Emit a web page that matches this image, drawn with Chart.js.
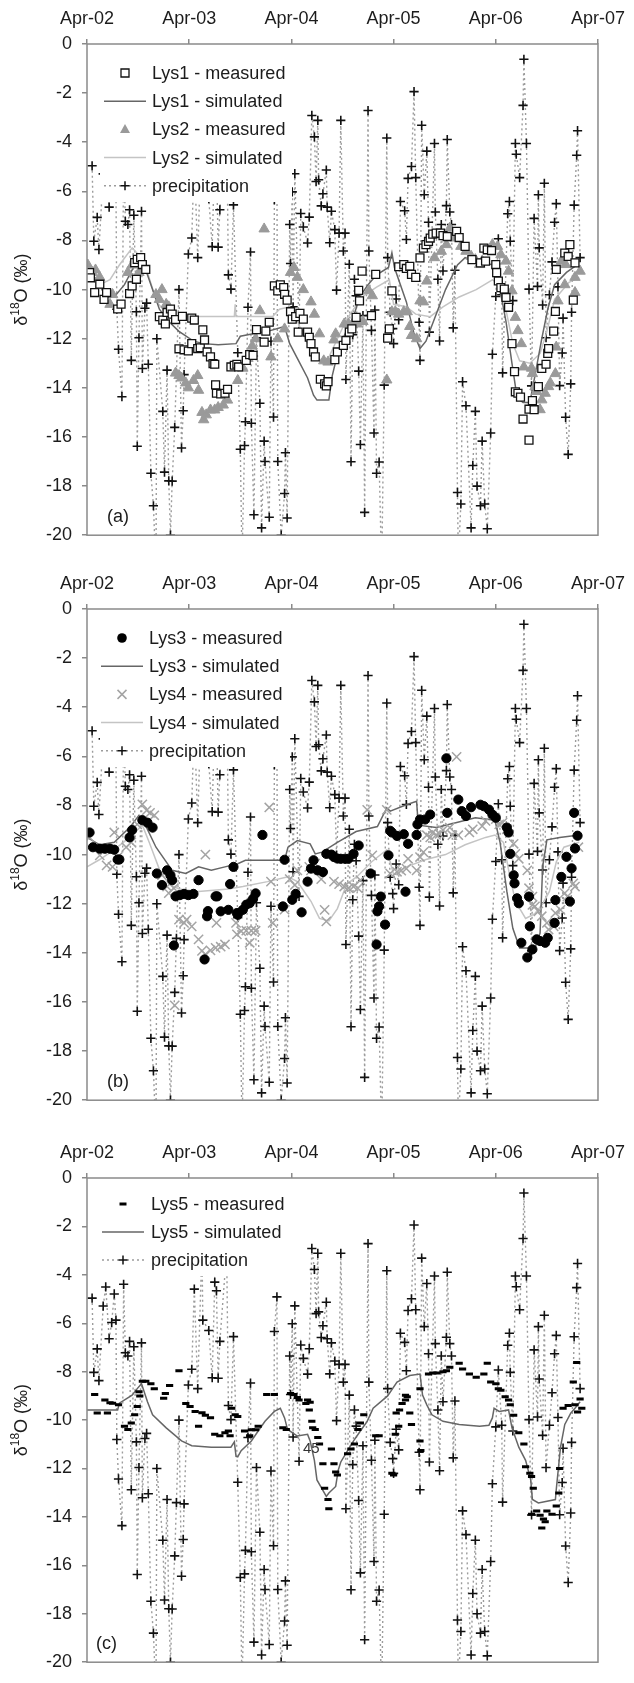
<!DOCTYPE html>
<html>
<head>
<meta charset="utf-8">
<script src="https://cdn.jsdelivr.net/npm/chart.js@4"></script>
<style>
  html, body { margin: 0; padding: 0; background: #fff; }
  #wrap { position: relative; width: 634px; height: 1683px; overflow: hidden; }
  canvas { position: absolute; left: 0; }
</style>
</head>
<body>
<div id="wrap">
  <canvas id="panelA" width="634" height="556" style="top:0px"></canvas>
  <canvas id="panelB" width="634" height="556" style="top:565px"></canvas>
  <canvas id="panelC" width="634" height="549" style="top:1134px"></canvas>
</div>
<script>
// x values are months since April 2002
const yearLabels = ["Apr-02", "Apr-03", "Apr-04", "Apr-05", "Apr-06", "Apr-07"];

// precipitation (same series in all three panels)
const precipMonth = [0.6,0.8,1.2,1.4,1.9,2.2,2.6,2.9,3.2,3.4,3.5,3.7,4.1,4.3,4.5,4.8,5.0,5.2,5.5,5.8,5.9,6.1,6.4,6.5,6.8,7.0,7.2,7.5,7.8,8.1,8.2,8.9,9.1,9.4,9.6,9.8,10.0,10.3,10.5,10.8,11.1,11.3,11.4,11.9,12.3,12.6,13.0,13.5,13.6,14.3,14.7,15.0,15.2,15.4,15.6,16.4,16.6,16.9,17.2,17.7,18.0,18.2,18.5,18.6,18.9,19.2,19.3,19.6,19.9,20.3,20.5,20.8,20.9,21.4,21.6,21.9,22.0,22.3,22.4,22.8,23.2,23.3,23.5,23.8,23.9,24.1,24.2,24.4,24.9,25.1,25.4,25.9,26.1,26.4,26.7,26.9,27.1,27.2,27.5,27.7,28.1,28.2,28.5,28.7,29.1,29.3,29.6,29.8,30.1,30.3,30.4,30.8,31.0,31.2,31.4,31.6,31.9,32.1,32.4,32.6,33.0,33.1,33.4,33.7,33.8,34.0,34.3,34.6,34.9,35.2,35.3,35.6,35.9,36.0,36.3,36.6,36.8,37.3,37.5,37.7,38.1,38.4,38.6,39.0,39.1,39.3,39.6,39.9,40.1,40.2,40.8,40.9,41.2,41.4,41.6,41.8,42.2,42.3,42.6,42.8,43.0,43.2,43.5,43.6,43.9,44.1,44.5,45.1,45.3,45.6,45.8,46.2,46.4,46.7,47.0,47.4,47.6,48.0,48.3,48.7,48.8,49.4,49.6,49.7,50.0,50.3,50.4,50.8,51.2,51.3,51.6,51.9,52.2,52.5,52.9,53.0,53.1,53.5,53.7,53.9,54.3,54.6,54.9,55.1,55.3,55.5,55.8,55.9,56.2,56.5,56.8,56.9,57.2,57.5,57.6,57.9];
const precipValue = [-4.96,-8.03,-7.06,-8.37,-5.29,-4.50,-6.64,-5.97,-4.79,-5.87,-10.8,-12.43,-14.36,-4.39,-7.22,-7.35,-6.75,-12.88,-6.97,-10.9,-16.38,-11.96,-6.81,-13.21,-10.76,-10.55,-13.04,-17.48,-18.8,-21.5,-12.0,-14.96,-17.43,-13.28,-17.79,-20.0,-17.8,-15.61,-13.41,-10.0,-16.45,-14.93,-13.46,-8.55,-7.9,-4.59,-8.7,-2.8,-5.87,-6.30,-8.25,-4.30,-4.66,-8.27,-6.75,-3.0,-9.4,-9.98,-6.55,-12.57,-16.5,-21.0,-16.35,-15.38,-10.72,-8.47,-15.44,-19.17,-11.96,-14.63,-19.7,-16.17,-17.0,-19.27,-12.1,-15.19,-6.34,-4.91,-17.0,-20.0,-18.3,-16.64,-19.3,-7.35,-8.94,-6.02,-10.7,-5.28,-11.7,-6.9,-7.45,-8.1,-7.05,-2.91,-3.78,-5.6,-3.11,-5.53,-6.59,-6.1,-5.13,-6.64,-8.09,-6.81,-7.56,-10.02,-7.7,-3.11,-8.43,-7.7,-13.66,-8.97,-17.01,-11.84,-9.58,-10.25,-13.32,-16.31,-11.06,-19.07,-2.71,-8.43,-11.66,-15.84,-10.83,-17.48,-17.02,-21.5,-13.89,-3.83,-8.7,-10.92,-11.59,-12.2,-10.38,-11.23,-6.41,-6.79,-7.96,-5.47,-4.99,-1.94,-5.44,-11.33,-12.88,-3.31,-6.14,-4.36,-7.26,-11.73,-4.05,-6.84,-9.58,-12.09,-7.35,-9.24,-6.58,-3.89,-6.84,-7.35,-11.56,-9.21,-18.26,-21.0,-18.73,-13.75,-14.73,-19.7,-17.16,-14.96,-18.0,-18.8,-16.17,-18.73,-19.74,-15.84,-12.63,-10.28,-7.93,-10.21,-13.39,-6.91,-6.41,-8.03,-10.45,-4.05,-4.49,-5.44,-2.5,-0.62,-4.05,-9.98,-13.92,-7.1,-9.87,-6.14,-8.3,-10.63,-5.67,-11.96,-10.21,-8.87,-7.26,-6.5,-9.89,-13.91,-12.58,-11.16,-15.2,-16.71,-13.84,-10.92,-6.56,-4.53,-3.53,-8.7];

// panel (a)
const lys1MeasMonth = [0.3,0.4,0.9,1.5,2.0,2.3,3.6,4.0,5.0,5.3,5.6,5.8,5.9,6.3,6.5,6.9,8.5,8.9,9.2,9.4,9.8,10.0,10.4,10.8,11.2,11.4,11.9,12.3,12.3,12.6,13.0,13.3,13.6,13.8,14.1,14.5,14.8,15.0,15.1,15.2,15.7,16.2,16.5,16.9,17.3,17.6,17.8,18.7,19.1,19.5,19.9,20.8,21.0,21.4,22.0,22.4,22.7,23.1,23.2,23.5,23.9,24.1,24.5,24.8,25.0,25.4,25.9,26.1,26.3,26.6,26.8,27.4,27.9,28.1,28.3,29.1,29.4,30.1,30.4,30.8,31.1,31.6,31.9,32.0,32.3,33.4,33.9,35.3,35.5,35.8,36.6,37.2,37.5,37.9,38.1,38.6,39.1,39.5,39.8,40.1,40.3,40.6,41.0,41.5,41.8,42.3,43.4,43.7,44.4,45.2,46.2,46.6,46.8,47.0,47.5,48.0,48.1,48.3,48.6,49.0,49.2,49.5,49.9,50.2,50.3,50.6,50.9,51.2,51.9,51.9,52.3,52.5,53.0,53.4,53.9,54.1,54.2,54.8,55.0,55.1,56.1,56.5,56.7,57.1,57.3];
const lys1MeasValue = [-9.31,-9.52,-10.12,-9.78,-10.4,-10.12,-10.79,-10.59,-10.16,-9.85,-8.9,-9.58,-8.77,-8.7,-8.98,-9.18,-11.1,-11.24,-11.4,-10.93,-10.79,-11.0,-11.22,-12.41,-11.09,-12.45,-12.5,-12.2,-11.16,-11.24,-12.4,-12.37,-11.64,-12.05,-12.54,-12.74,-13.01,-13.04,-13.88,-14.22,-14.25,-14.22,-14.06,-13.15,-13.08,-13.04,-13.15,-12.88,-12.65,-12.68,-11.63,-12.14,-11.69,-11.33,-9.85,-10.05,-9.81,-9.92,-10.19,-10.43,-10.9,-11.2,-11.1,-11.73,-10.97,-11.2,-11.73,-11.94,-12.2,-12.54,-12.74,-13.65,-13.84,-13.92,-13.75,-12.85,-12.54,-12.27,-12.07,-11.73,-11.6,-11.13,-10.03,-10.46,-9.25,-11.06,-9.38,-11.98,-11.6,-10.05,-9.07,-8.98,-9.14,-9.05,-9.38,-9.5,-8.71,-8.31,-8.17,-8.04,-7.9,-7.74,-7.7,-7.7,-7.8,-7.84,-7.63,-7.88,-8.24,-8.78,-8.91,-8.31,-8.84,-8.38,-8.41,-8.98,-9.31,-9.65,-9.92,-9.98,-10.32,-10.72,-12.2,-13.34,-14.16,-14.22,-14.38,-15.27,-16.13,-14.87,-14.52,-14.89,-13.95,-13.21,-13.04,-12.6,-12.4,-11.69,-10.89,-9.18,-8.51,-8.65,-8.17,-10.43,-8.91];
const lys1SimMonth = [0,0.9,2.1,3.2,4.4,5.6,6.5,7.3,8.5,9.6,10.8,12.5,13.7,15.4,17.5,18.0,19.5,21.2,23.2,23.8,24.7,25.9,26.6,27.0,28.4,28.8,29.5,30.3,31.3,32.0,33.0,34.0,35.4,35.8,36.1,37.5,38.4,39.1,39.8,41.0,42.1,43.5,44.4,46.2,47.9,48.5,49.2,49.9,50.5,51.2,52.0,52.6,53.4,54.1,54.9,56.3,57.5];
const lys1SimValue = [-9.3,-9.5,-10.2,-10.3,-9.8,-9.0,-8.8,-9.6,-10.8,-11.3,-11.7,-12.1,-12.2,-12.25,-12.2,-11.9,-11.8,-11.7,-11.5,-12.2,-12.8,-13.6,-14.3,-14.5,-14.5,-13.5,-12.5,-11.8,-11.1,-10.3,-9.8,-9.4,-9.1,-8.5,-9.1,-10.5,-11.8,-12.4,-12.1,-11.0,-10.0,-9.0,-8.7,-8.9,-9.0,-10.0,-11.3,-13.0,-14.4,-14.6,-14.6,-13.5,-12.0,-10.8,-9.8,-9.3,-9.0];
const lys2MeasMonth = [0.1,0.6,1.0,1.5,2.7,3.0,4.8,5.3,6.1,6.7,8.1,8.5,8.8,9.3,9.6,10.4,10.8,11.1,11.6,11.9,12.5,13.0,13.1,13.5,13.7,14.0,14.5,15.0,15.4,16.0,16.5,17.7,18.3,18.9,19.4,19.8,20.3,20.8,21.6,22.4,23.2,23.9,24.3,24.7,25.4,26.3,26.7,27.3,27.8,28.3,29.0,29.2,30.2,30.7,31.2,31.7,32.4,33.1,33.5,35.2,35.8,36.2,36.6,37.2,37.6,37.9,38.1,38.7,39.1,39.5,39.9,40.8,41.6,42.2,42.6,43.2,43.9,44.5,45.1,45.6,46.1,46.4,47.6,48.2,48.6,49.2,49.5,49.9,50.3,50.6,51.0,51.3,52.2,52.3,52.6,52.8,53.2,53.4,53.8,54.2,54.4,55.0,55.1,55.3,55.7,56.1,56.2,57.3,57.3,57.9];
const lys2MeasValue = [-9.0,-9.3,-9.2,-9.5,-10.6,-10.2,-9.3,-9.0,-9.3,-9.1,-10.2,-10.4,-10.0,-10.6,-10.7,-13.4,-13.5,-13.6,-13.8,-14.0,-13.7,-13.5,-14.1,-15.0,-15.3,-15.1,-14.9,-14.9,-14.8,-14.7,-14.5,-13.7,-13.2,-12.8,-12.3,-12.0,-10.86,-7.53,-12.74,-12.0,-11.6,-9.3,-9.1,-9.5,-10.0,-10.5,-11.0,-11.8,-12.9,-12.95,-12.05,-11.8,-11.4,-11.4,-11.4,-11.4,-11.3,-10.05,-10.25,-13.68,-10.9,-10.9,-11.0,-10.9,-10.9,-11.5,-11.87,-12.0,-10.46,-10.5,-9.65,-8.7,-8.44,-8.17,-7.5,-7.9,-8.24,-8.44,-8.64,-8.78,-8.98,-8.84,-8.17,-8.24,-8.58,-8.84,-9.25,-10.05,-11.13,-11.67,-12.2,-13.15,-13.2,-13.42,-13.95,-14.15,-14.89,-14.49,-14.22,-13.95,-13.8,-13.42,-12.34,-10.46,-8.84,-9.8,-8.98,-9.5,-10.12,-9.25];
const lys2SimMonth = [0,1.5,2.7,3.8,5.3,6.1,7.1,8.2,9.4,10.2,17.3,17.4,17.5,21.8,22.6,23.8,24.7,25.9,26.8,28.2,29.4,30.5,32.3,34.0,35.5,36.0,37.5,38.6,40.3,41.8,43.7,45.7,47.6,48.5,49.3,50.0,50.8,52.0,53.2,54.0,54.9,56.6,57.8];
const lys2SimValue = [-9.5,-9.8,-9.6,-9.0,-8.3,-8.6,-9.3,-10.5,-11.0,-11.1,-11.1,-10.6,-11.1,-11.1,-10.8,-10.7,-11.3,-12.2,-12.8,-12.9,-12.0,-11.2,-10.3,-9.9,-9.6,-10.6,-10.7,-11.0,-11.1,-10.7,-10.3,-10.0,-9.6,-9.8,-11.0,-12.2,-12.9,-13.0,-12.6,-11.7,-10.4,-9.7,-9.5];

// panel (b)
const lys3MeasMonth = [0.3,0.7,1.5,2.1,2.7,3.2,3.6,3.8,5.0,5.3,6.5,7.1,7.7,8.2,8.8,9.4,9.8,10.0,10.2,10.4,10.9,11.4,11.9,12.5,13.1,13.8,14.1,14.2,15.1,15.3,15.7,16.6,16.8,17.2,17.6,17.7,18.3,18.7,19.1,19.5,19.8,20.6,23.0,23.2,24.1,24.5,25.2,25.9,26.3,26.6,27.1,27.7,28.1,28.7,29.0,29.4,29.8,30.3,30.7,31.3,31.9,33.3,34.0,34.1,34.3,34.5,35.0,35.4,35.6,35.8,36.4,37.2,37.4,37.7,38.7,38.8,39.1,39.7,40.3,42.2,42.3,43.6,44.0,44.5,45.1,46.2,46.6,47.2,47.6,48.0,49.3,49.5,49.7,50.1,50.2,50.5,50.7,51.0,51.7,51.9,52.0,52.3,52.8,53.2,53.8,54.1,54.9,55.0,55.7,56.3,56.7,56.9,57.3,57.2,57.6];
const lys3MeasValue = [-9.1,-9.7,-9.76,-9.76,-9.76,-9.8,-10.2,-10.2,-9.3,-9.0,-8.6,-8.7,-8.9,-10.77,-11.24,-10.64,-10.84,-11.04,-13.7,-11.7,-11.65,-11.6,-11.65,-11.6,-11.04,-14.27,-12.51,-12.3,-11.7,-11.7,-12.31,-12.25,-11.2,-10.5,-12.38,-12.45,-12.25,-12.04,-11.98,-11.8,-11.58,-9.2,-12.11,-10.21,-11.84,-11.6,-12.35,-11.1,-10.57,-10.23,-10.64,-10.71,-9.97,-10.0,-10.1,-10.16,-10.17,-10.17,-10.17,-9.97,-9.63,-10.77,-13.66,-12.31,-12.11,-11.71,-12.85,-10.03,-9.03,-9.1,-9.24,-9.17,-11.51,-9.56,-9.2,-8.77,-8.57,-8.57,-8.37,-6.08,-8.3,-7.76,-8.23,-8.43,-8.07,-7.97,-8.03,-8.17,-8.37,-8.5,-8.9,-9.1,-9.97,-10.84,-11.17,-11.78,-11.98,-13.59,-14.19,-11.71,-12.92,-13.86,-13.45,-13.52,-13.59,-13.39,-12.78,-11.85,-10.91,-10.09,-11.91,-10.56,-9.75,-8.3,-9.23];
const lys3SimMonth = [0,1.5,3.2,5.0,6.1,7.0,8.1,10.0,11.6,13.1,14.6,16.2,17.7,18.6,23.2,23.6,24.7,26.2,26.8,27.6,29.4,31.6,34.1,35.2,35.6,37.5,38.7,38.9,41.0,43.3,45.6,47.9,48.5,49.3,50.0,50.8,52.6,53.2,53.5,54.0,55.5,57.8];
const lys3SimValue = [-9.3,-9.6,-9.5,-8.9,-8.4,-8.9,-9.7,-10.64,-10.77,-10.5,-10.64,-10.5,-10.37,-10.23,-10.23,-9.7,-9.43,-9.56,-9.97,-9.9,-9.5,-9.06,-8.86,-8.1,-8.23,-7.97,-7.83,-8.8,-8.9,-8.7,-8.5,-8.6,-9.5,-11.5,-13.0,-13.8,-13.8,-13.2,-10.5,-9.4,-9.3,-9.2];
const lys4MeasMonth = [0.3,1.5,2.3,3.0,3.2,3.6,4.6,5.2,5.9,6.5,7.0,7.4,7.9,8.8,9.4,9.6,10.2,10.3,10.8,11.4,11.7,12.3,13.1,13.5,13.9,13.9,14.5,15.1,15.2,15.7,16.2,17.5,17.6,18.1,18.7,19.1,19.3,19.8,21.4,21.6,21.8,23.2,23.8,24.4,24.7,26.1,26.3,26.8,27.5,27.9,28.1,29.0,29.6,30.2,30.7,31.3,31.8,32.1,32.9,33.5,35.2,35.6,36.4,36.9,37.5,37.7,38.7,39.1,39.5,39.9,40.3,40.6,41.0,41.4,41.8,42.6,42.9,43.4,43.6,44.9,45.3,46.4,46.8,48.0,48.4,48.8,49.3,50.1,50.3,50.7,51.7,51.9,52.3,52.3,52.6,53.0,53.4,54.0,54.2,54.8,55.0,55.6,56.1,56.4,57.1,57.3,57.7];
const lys4MeasValue = [-9.3,-10.03,-10.44,-10.5,-9.1,-10.1,-9.7,-9.5,-8.77,-7.95,-8.2,-8.3,-8.4,-10.84,-11.3,-11.57,-11.37,-16.14,-12.65,-12.78,-12.65,-12.92,-13.45,-13.92,-10.0,-14.06,-13.9,-13.8,-12.78,-13.75,-13.66,-12.78,-13.25,-13.12,-13.1,-13.59,-13.1,-13.1,-8.08,-11.1,-12.78,-12.24,-11.0,-11.24,-10.64,-10.5,-10.64,-10.37,-11.0,-12.25,-12.72,-11.1,-11.2,-11.3,-11.37,-11.3,-11.37,-11.04,-8.18,-10.03,-8.18,-10.77,-10.7,-10.65,-10.57,-10.17,-10.64,-10.1,-9.9,-9.21,-9.3,-9.1,-9.2,-9.16,-9.0,-8.9,-9.21,-6.02,-9.21,-9.1,-8.97,-8.84,-8.63,-8.56,-8.77,-8.7,-8.97,-9.56,-9.97,-10.17,-10.64,-11.37,-11.71,-12.05,-12.11,-12.31,-12.51,-12.78,-13.05,-12.92,-12.38,-12.25,-11.57,-11.71,-11.17,-11.3,-9.7];
const lys4SimMonth = [0,1.5,3.2,5.0,6.5,7.3,8.5,9.6,10.8,13.1,16.6,18.3,21.2,23.6,24.7,26.3,27.3,28.4,29.4,30.5,31.7,33.4,35.2,36.0,37.5,39.8,42.1,44.4,46.8,47.9,48.9,49.6,50.3,51.5,52.6,53.5,54.3,55.1,56.0,57.8];
const lys4SimValue = [-10.5,-10.2,-9.8,-9.3,-8.8,-9.5,-10.6,-11.2,-11.4,-11.5,-11.4,-11.3,-11.1,-10.9,-11.1,-11.9,-12.6,-12.7,-12.2,-11.2,-10.9,-10.3,-9.8,-10.8,-10.5,-10.2,-10.0,-9.6,-9.3,-9.2,-9.5,-10.8,-11.9,-12.6,-12.4,-12.0,-11.5,-10.3,-9.7,-9.5];

// panel (c)
const lys5MeasMonth = [0.9,1.2,2.1,2.4,2.7,3.0,3.7,4.4,4.8,5.2,5.6,5.9,6.1,6.2,6.5,6.9,7.5,7.9,9.0,9.2,9.7,10.8,11.6,12.1,12.7,13.1,13.5,13.9,14.5,15.0,15.6,16.2,16.6,16.8,17.0,17.4,17.7,18.5,19.1,19.3,19.8,20.1,21.1,22.0,23.0,23.4,23.9,24.3,24.7,24.9,25.7,25.9,26.1,26.2,26.4,26.5,26.8,27.1,27.3,27.7,27.9,28.3,28.4,28.7,29.0,29.2,29.4,30.6,31.0,31.4,31.8,32.1,32.5,33.9,34.3,35.8,36.0,36.2,36.3,36.6,36.7,37.0,37.4,37.4,37.6,37.9,38.1,39.1,39.2,39.1,40.1,40.6,41.1,41.8,42.2,42.6,43.7,44.1,44.9,45.7,46.6,47.0,47.4,48.0,48.3,48.6,49.1,49.5,49.7,50.1,50.7,51.3,51.5,52.0,52.2,52.4,52.2,52.8,53.2,53.6,53.8,53.4,54.0,54.6,55.1,55.4,55.5,55.9,56.5,57.1,57.3,57.5,57.6,57.9,58.1];
const lys5MeasValue = [-8.94,-9.71,-9.17,-9.71,-9.28,-9.3,-9.37,-10.25,-10.39,-10.12,-9.78,-9.44,-8.83,-9.0,-8.4,-8.4,-8.5,-8.7,-9.1,-8.9,-8.57,-7.96,-9.31,-9.44,-9.64,-10.25,-9.7,-9.8,-9.9,-10.58,-10.65,-10.52,-10.45,-10.65,-9.51,-9.78,-9.85,-10.45,-10.65,-10.4,-10.4,-10.25,-8.94,-8.94,-10.32,-10.39,-8.9,-8.94,-9.07,-9.17,-9.31,-9.17,-9.58,-9.26,-10.05,-10.32,-10.39,-10.72,-10.99,-11.8,-12.81,-13.28,-13.66,-11.19,-11.8,-12.14,-12.27,-11.39,-11.19,-10.99,-10.39,-10.12,-9.78,-10.65,-10.65,-12.2,-12.27,-10.58,-9.71,-10.25,-9.58,-9.31,-9.17,-8.97,-9.04,-9.71,-10.18,-10.86,-11.26,-8.7,-8.1,-8.05,-8.05,-8.0,-7.96,-7.82,-7.65,-7.89,-8.1,-8.23,-8.1,-7.65,-8.43,-8.5,-8.7,-8.77,-9.04,-9.17,-9.37,-9.8,-10.52,-10.99,-11.93,-12.2,-12.33,-12.81,-13.89,-13.75,-13.93,-14.09,-14.2,-14.46,-13.75,-13.89,-13.55,-13.01,-12.0,-9.51,-9.4,-8.43,-9.37,-7.62,-9.67,-9.13,-9.51];
const lys5SimMonth = [0,3.6,3.8,5.3,5.9,6.4,7.1,7.7,9.3,11.1,12.3,14.6,16.9,17.3,17.5,17.7,18.1,19.3,20.1,20.9,22.0,22.7,23.2,23.5,23.8,24.7,25.9,26.2,26.7,27.0,28.1,28.4,29.2,29.5,29.8,30.6,31.3,32.1,32.9,33.6,35.3,36.4,37.9,39.1,39.4,39.9,40.5,41.8,43.7,46.1,47.2,47.6,47.8,48.4,49.5,49.9,50.7,51.5,52.1,52.3,53.0,55.0,55.1,55.6,56.1,56.8,57.3,57.9];
const lys5SimValue = [-9.58,-9.58,-9.3,-8.97,-8.7,-8.5,-9.24,-9.78,-10.32,-10.86,-11.06,-11.12,-11.12,-10.9,-11.5,-11.52,-11.26,-10.86,-10.45,-10.05,-9.64,-9.51,-9.91,-10.32,-10.45,-10.66,-10.59,-10.86,-11.66,-12.47,-13.15,-13.01,-12.74,-12.07,-11.73,-11.26,-10.86,-10.45,-10.05,-9.51,-9.0,-8.43,-8.16,-8.1,-8.97,-9.37,-9.78,-10.05,-10.18,-10.25,-10.21,-9.91,-9.51,-9.64,-9.58,-10.32,-11.12,-11.66,-12.47,-13.28,-13.42,-13.28,-12.87,-11.12,-10.18,-9.71,-9.51,-9.24];

const FONT = '"Liberation Sans", Arial, sans-serif';
const TEXT = "#1c1c1c";
const AXIS = "#8a8a8a";
const DARK_LINE = "#666666";
const LIGHT_LINE = "#c4c4c4";
const MID_GRAY = "#9a9a9a";

function pts(xs, ys) {
    return xs.map((x, i) => ({ x: x, y: ys[i] }));
}

// ── dataset builders ──
function precipSet() {
    return {
        label: "precipitation",
        data: pts(precipMonth, precipValue),
        showLine: true,
        borderColor: "#9c9c9c",
        borderWidth: 1.4,
        borderDash: [2, 3],
        pointStyle: "cross",
        pointRadius: 4.6,
        pointBorderColor: "#111",
        pointBorderWidth: 1.6,
        order: 9
    };
}
function simSet(label, xs, ys, color, order) {
    return {
        label: label, data: pts(xs, ys), showLine: true,
        borderColor: color, borderWidth: 1.5, pointRadius: 0, order: order
    };
}
function measSet(label, xs, ys, style, order) {
    return Object.assign({ label: label, data: pts(xs, ys), showLine: false, order: order }, style);
}

const STYLE = {
    square:   { pointStyle: "rect", pointRadius: 5.6, pointBackgroundColor: "#fff", pointBorderColor: "#111", pointBorderWidth: 1.3 },
    triangle: { pointStyle: "triangle", pointRadius: 6, pointBackgroundColor: MID_GRAY, pointBorderColor: MID_GRAY, pointBorderWidth: 1 },
    dot:      { pointStyle: "circle", pointRadius: 4.6, pointBackgroundColor: "#000", pointBorderColor: "#000", pointBorderWidth: 1 },
    xmark:    { pointStyle: "crossRot", pointRadius: 6.5, pointBorderColor: "#a4a4a4", pointBorderWidth: 1.5 },
    dash:     { pointStyle: "line", pointRadius: 3.6, pointBorderColor: "#000", pointBorderWidth: 3 }
};

// ── little marker painter for the legend ──
function paintMarker(ctx, kind, x, y) {
    ctx.save();
    ctx.beginPath();
    if (kind === "square") {
        ctx.fillStyle = "#fff"; ctx.strokeStyle = "#111"; ctx.lineWidth = 1.3;
        ctx.rect(x - 4, y - 4, 8, 8); ctx.fill(); ctx.stroke();
    } else if (kind === "triangle") {
        ctx.fillStyle = MID_GRAY;
        ctx.moveTo(x, y - 5.5); ctx.lineTo(x + 5, y + 3.5); ctx.lineTo(x - 5, y + 3.5); ctx.closePath(); ctx.fill();
    } else if (kind === "dot") {
        ctx.fillStyle = "#000"; ctx.arc(x, y, 4.8, 0, Math.PI * 2); ctx.fill();
    } else if (kind === "xmark") {
        ctx.strokeStyle = "#a4a4a4"; ctx.lineWidth = 1.5;
        ctx.moveTo(x - 4.5, y - 4.5); ctx.lineTo(x + 4.5, y + 4.5);
        ctx.moveTo(x + 4.5, y - 4.5); ctx.lineTo(x - 4.5, y + 4.5); ctx.stroke();
    } else if (kind === "dash") {
        ctx.strokeStyle = "#000"; ctx.lineWidth = 3;
        ctx.moveTo(x - 3.5, y); ctx.lineTo(x + 3.5, y); ctx.stroke();
    } else if (kind === "cross") {
        ctx.strokeStyle = "#111"; ctx.lineWidth = 1.5;
        ctx.moveTo(x - 4.5, y); ctx.lineTo(x + 4.5, y);
        ctx.moveTo(x, y - 4.5); ctx.lineTo(x, y + 4.5); ctx.stroke();
    }
    ctx.restore();
}

// ── panel decorations: legend box, frame, axis title, panel letter ──
const panelDecor = {
    id: "panelDecor",
    afterDatasetsDraw(chart, args, opts) {
        const ctx = chart.ctx;
        // legend on an opaque white box
        const lg = opts.legend;
        const rows = lg.items.length;
        ctx.save();
        ctx.fillStyle = "#fff";
        ctx.fillRect(lg.boxLeft, lg.top - 14, lg.boxRight - lg.boxLeft, rows * lg.step + 2);
        ctx.font = "18px " + FONT;
        ctx.fillStyle = TEXT;
        ctx.textBaseline = "middle";
        lg.items.forEach((it, i) => {
            const y = lg.top + i * lg.step;
            if (it.line) {
                ctx.save();
                ctx.beginPath();
                ctx.strokeStyle = it.line;
                ctx.lineWidth = it.dash ? 1.4 : 1.5;
                ctx.setLineDash(it.dash || []);
                ctx.moveTo(lg.sampleLeft, y); ctx.lineTo(lg.sampleRight, y);
                ctx.stroke();
                ctx.restore();
            }
            if (it.marker) paintMarker(ctx, it.marker, (lg.sampleLeft + lg.sampleRight) / 2, y);
            ctx.fillText(it.text, lg.textLeft, y + 1);
        });
        ctx.restore();
    },
    afterDraw(chart, args, opts) {
        const ctx = chart.ctx;
        const a = chart.chartArea;
        ctx.save();
        // frame
        ctx.strokeStyle = AXIS;
        ctx.lineWidth = 1.5;
        ctx.strokeRect(a.left, a.top, a.right - a.left, a.bottom - a.top);
        // y title: δ18O (‰)
        ctx.translate(22, (a.top + a.bottom) / 2);
        ctx.rotate(-Math.PI / 2);
        ctx.fillStyle = TEXT;
        ctx.textBaseline = "middle";
        const big = "18px " + FONT, small = "12px " + FONT;
        ctx.font = big; const w1 = ctx.measureText("\u03B4").width;
        ctx.font = small; const w2 = ctx.measureText("18").width;
        ctx.font = big; const w3 = ctx.measureText("O (\u2030)").width;
        let x = -(w1 + w2 + w3) / 2;
        ctx.font = big; ctx.fillText("\u03B4", x, 0); x += w1;
        ctx.font = small; ctx.fillText("18", x, -6); x += w2;
        ctx.font = big; ctx.fillText("O (\u2030)", x, 0);
        ctx.restore();
        // panel letter
        ctx.save();
        ctx.font = "18px " + FONT;
        ctx.fillStyle = TEXT;
        ctx.textBaseline = "middle";
        ctx.fillText(opts.letter, opts.letterX, a.bottom - 18);
        if (opts.note) {
            ctx.font = "15px " + FONT;
            ctx.fillStyle = "#333";
            ctx.fillText(opts.note.text, opts.note.x, opts.note.y);
        }
        ctx.restore();
    }
};

function makePanel(id, datasets, decor) {
    const canvas = document.getElementById(id);
    const bottomPad = canvas.height - decor.plotBottom;
    return new Chart(canvas, {
        type: "scatter",
        data: { datasets: datasets },
        plugins: [panelDecor],
        options: {
            responsive: false,
            animation: false,
            devicePixelRatio: 1,
            layout: { padding: { left: 0, right: 30, top: 0, bottom: bottomPad } },
            plugins: {
                legend: { display: false },
                tooltip: { enabled: false },
                panelDecor: decor
            },
            scales: {
                x: {
                    type: "linear",
                    position: "top",
                    min: 0,
                    max: 60,
                    afterFit: s => { s.height = 44; },
                    ticks: {
                        stepSize: 12,
                        autoSkip: false,
                        maxRotation: 0,
                        padding: 9,
                        color: TEXT,
                        font: { family: FONT, size: 18 },
                        callback: v => yearLabels[Math.round(v / 12)]
                    },
                    grid: { drawOnChartArea: false, drawTicks: true, tickLength: 5, color: AXIS, lineWidth: 1.5 },
                    border: { display: false }
                },
                y: {
                    min: -20,
                    max: 0,
                    afterFit: s => { s.width = 87; },
                    ticks: {
                        stepSize: 2,
                        padding: 10,
                        color: TEXT,
                        font: { family: FONT, size: 18 }
                    },
                    grid: { drawOnChartArea: false, drawTicks: true, tickLength: 5, color: AXIS, lineWidth: 1.5 },
                    border: { display: false }
                }
            }
        }
    });
}

document.addEventListener("DOMContentLoaded", () => {

    makePanel("panelA", [
        measSet("Lys1 - measured", lys1MeasMonth, lys1MeasValue, STYLE.square, 1),
        measSet("Lys2 - measured", lys2MeasMonth, lys2MeasValue, STYLE.triangle, 2),
        simSet("Lys1 - simulated", lys1SimMonth, lys1SimValue, DARK_LINE, 4),
        simSet("Lys2 - simulated", lys2SimMonth, lys2SimValue, LIGHT_LINE, 5),
        precipSet()
    ], {
        plotBottom: 540,
        letter: "(a)", letterX: 107,
        legend: {
            top: 73, step: 28.2, boxLeft: 100, boxRight: 292,
            sampleLeft: 104, sampleRight: 146, textLeft: 152,
            items: [
                { text: "Lys1 - measured", marker: "square" },
                { text: "Lys1 - simulated", line: DARK_LINE },
                { text: "Lys2 - measured", marker: "triangle" },
                { text: "Lys2 - simulated", line: LIGHT_LINE },
                { text: "precipitation", line: "#9c9c9c", dash: [2, 3], marker: "cross" }
            ]
        }
    });

    makePanel("panelB", [
        measSet("Lys3 - measured", lys3MeasMonth, lys3MeasValue, STYLE.dot, 1),
        measSet("Lys4 - measured", lys4MeasMonth, lys4MeasValue, STYLE.xmark, 2),
        simSet("Lys3 - simulated", lys3SimMonth, lys3SimValue, DARK_LINE, 4),
        simSet("Lys4 - simulated", lys4SimMonth, lys4SimValue, LIGHT_LINE, 5),
        precipSet()
    ], {
        plotBottom: 541,
        letter: "(b)", letterX: 107,
        legend: {
            top: 73, step: 28.2, boxLeft: 100, boxRight: 290,
            sampleLeft: 101, sampleRight: 143, textLeft: 149,
            items: [
                { text: "Lys3 - measured", marker: "dot" },
                { text: "Lys3 - simulated", line: DARK_LINE },
                { text: "Lys4 - measured", marker: "xmark" },
                { text: "Lys4 - simulated", line: LIGHT_LINE },
                { text: "precipitation", line: "#9c9c9c", dash: [2, 3], marker: "cross" }
            ]
        }
    });

    makePanel("panelC", [
        measSet("Lys5 - measured", lys5MeasMonth, lys5MeasValue, STYLE.dash, 1),
        simSet("Lys5 - simulated", lys5SimMonth, lys5SimValue, DARK_LINE, 4),
        precipSet()
    ], {
        plotBottom: 539,
        letter: "(c)", letterX: 96,
        note: { text: "45", x: 303, y: 315 },
        legend: {
            top: 70, step: 28, boxLeft: 100, boxRight: 290,
            sampleLeft: 102, sampleRight: 144, textLeft: 151,
            items: [
                { text: "Lys5 - measured", marker: "dash" },
                { text: "Lys5 - simulated", line: DARK_LINE },
                { text: "precipitation", line: "#9c9c9c", dash: [2, 3], marker: "cross" }
            ]
        }
    });

});
</script>
</body>
</html>
